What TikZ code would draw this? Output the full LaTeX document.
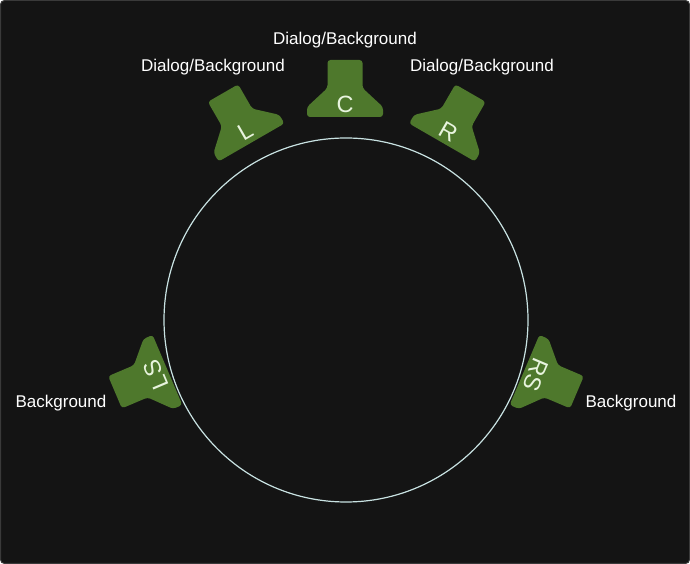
\documentclass[tikz,border=0pt]{standalone}
\usepackage{fontspec}
\setmainfont{Liberation Sans}
\definecolor{bgdark}{RGB}{20,20,20}
\definecolor{frame}{RGB}{58,58,58}
\definecolor{spkgreen}{RGB}{78,120,44}
\definecolor{spktext}{RGB}{232,244,222}
\definecolor{ringcol}{RGB}{200,226,226}
\tikzset{
  spkshape/.style={fill=spkgreen, rounded corners=3pt},
  spkletter/.style={text=spktext, font=\fontsize{23.5}{24}\selectfont, inner sep=0pt, transform shape},
  chanlabel/.style={text=white, font=\fontsize{17}{18}\selectfont, inner sep=0pt, anchor=base},
}
\newcommand{\speaker}[5]{%
  \begin{scope}[shift={(#1,#2)}, rotate=#3]
    \fill[spkshape] (-38,0) -- (-38,10) -- (-17.5,29) -- (-17.5,57) -- (17.5,57) -- (17.5,29) -- (38,10) -- (38,0) -- cycle;
    \node[spkletter] (#5) at (0,12.5) {#4};
  \end{scope}}
\begin{document}
\begin{tikzpicture}[x=1pt,y=1pt]
\useasboundingbox (0,0) rectangle (690,564);
\fill[white] (0,0) rectangle (690,564);
\fill[bgdark, draw=frame, line width=1pt, rounded corners=4pt] (0.5,0.5) rectangle (689.5,563.5);
\node[draw=ringcol, line width=1.2pt, circle, minimum size=364pt, inner sep=0pt] (ring) at (346,244) {};
\speaker{345}{447}{0}{C}{spkC}
\speaker{251.5}{421.5}{30}{L}{spkL}
\speaker{442}{421.5}{-30}{R}{spkR}
\speaker{167.5}{194}{113}{L\kern1.5pt S}{spkLS}
\speaker{524.5}{194}{-113}{RS}{spkRS}
\node[chanlabel] (labC) at (345,519) {Dialog/Background};
\node[chanlabel] (labL) at (213,492) {Dialog/Background};
\node[chanlabel] (labR) at (482,492) {Dialog/Background};
\node[chanlabel] (labLS) at (61,156) {Background};
\node[chanlabel] (labRS) at (631,156) {Background};
\end{tikzpicture}
\end{document}
